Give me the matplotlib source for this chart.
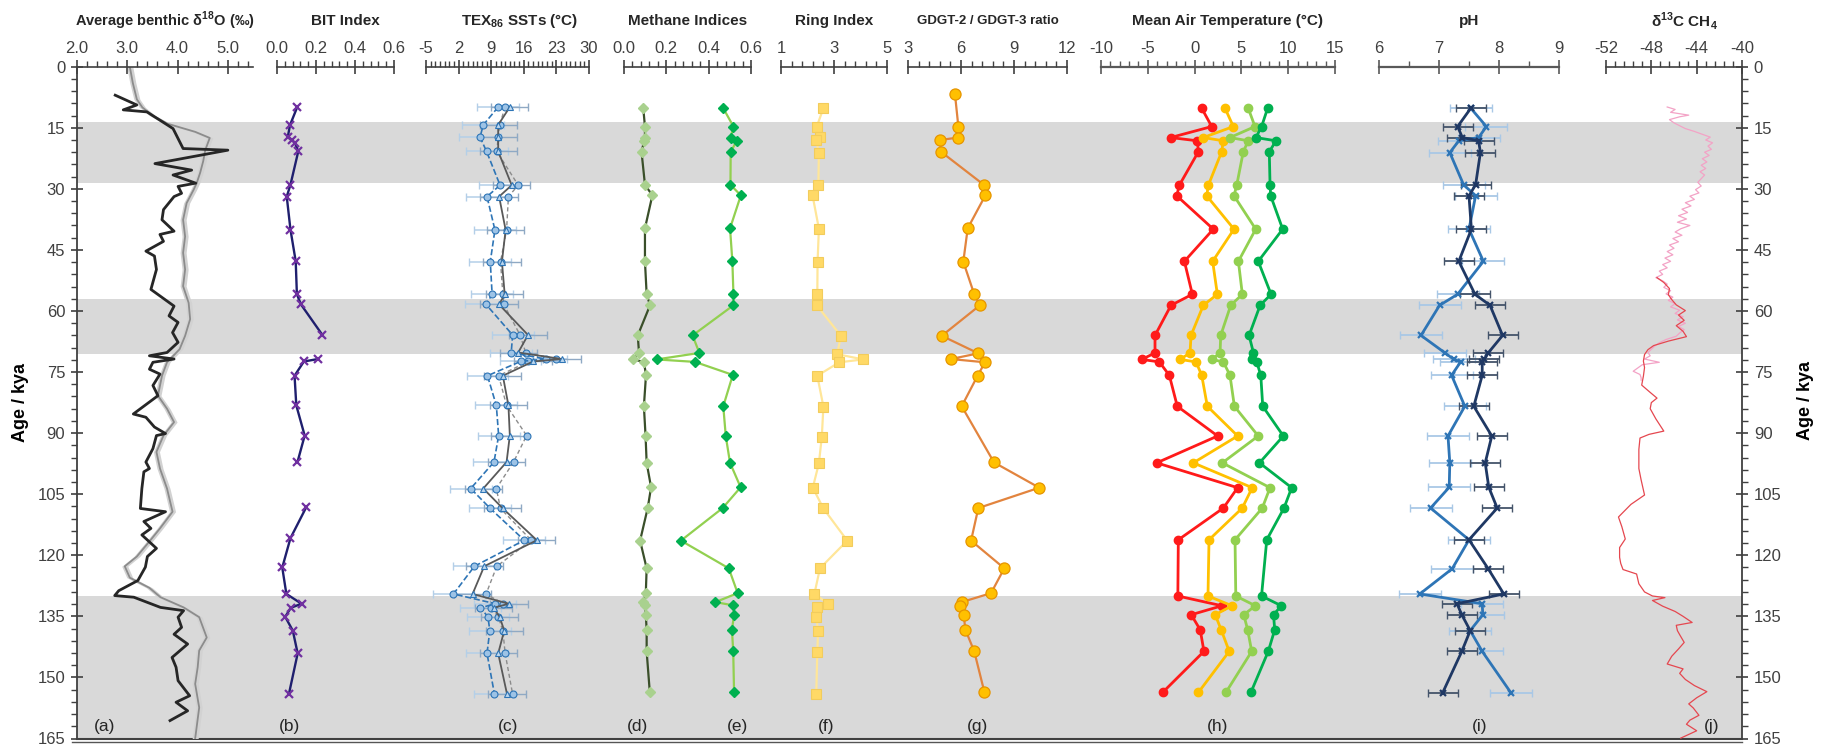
import numpy as np
import matplotlib
matplotlib.use("Agg")
import matplotlib.pyplot as plt
from matplotlib.ticker import MultipleLocator, FixedLocator, FormatStrFormatter
from matplotlib.lines import Line2D

plt.rcParams['font.family'] = ['Liberation Sans', 'DejaVu Sans']
plt.rcParams['mathtext.fontset'] = 'custom'
plt.rcParams['mathtext.rm'] = 'Liberation Sans'
plt.rcParams['mathtext.bf'] = 'Liberation Sans:bold'
plt.rcParams['axes.unicode_minus'] = False

nan = np.nan

# ---------- data ----------
bands = [(13.5, 28.6), (57.0, 70.5), (130.0, 165.0)]

# (a) benthic d18O
d18o_site_age = [7.0, 9.4, 10.6, 11.1, 15.2, 20.1, 20.5, 23.8, 25.4, 26.6, 28.6, 29.4, 31.1, 31.9, 35.1,
                 37.6, 40.4, 41.2, 42.9, 45.3, 46.5, 49.8, 54.7, 58.8, 61.2, 62.8, 65.3, 67.7, 70.2, 71.0,
                 71.8, 72.6, 74.3, 75.5, 78.3, 80.8, 85.3, 86.1, 88.5, 90.1, 90.6, 93.8, 97.1, 98.7, 99.5,
                 103.6, 108.5, 109.3, 111.7, 113.4, 115.0, 118.3, 120.3, 122.9, 126.2, 128.7, 129.9, 130.3,
                 132.8, 133.6, 135.2, 137.7, 139.4, 141.8, 145.1, 147.5, 150.8, 154.5, 156.1, 158.2, 160.6]
d18o_site = [2.76, 3.19, 2.92, 3.39, 3.91, 4.11, 5.0, 3.55, 4.28, 3.91, 4.36, 4.01, 4.08, 3.93, 3.72,
             3.69, 3.93, 3.65, 3.72, 3.37, 3.54, 3.58, 3.47, 3.93, 3.83, 4.01, 3.90, 4.01, 3.79, 3.44,
             3.93, 3.51, 3.44, 3.65, 3.51, 3.61, 3.12, 3.37, 3.54, 3.76, 3.58, 3.51, 3.37, 3.44, 3.33,
             3.29, 3.26, 3.76, 3.33, 3.47, 3.29, 3.58, 3.40, 3.36, 3.21, 2.83, 2.75, 3.13,
             3.66, 4.12, 4.01, 4.08, 3.93, 4.20, 3.89, 3.97, 4.01, 4.24, 3.97, 4.20, 3.85]
d18o_stack_age = [0, 4, 8, 10, 12, 14, 16, 17.5, 20.5, 23.2, 26.0, 28.6, 30.2, 33.5, 37.6, 41.7, 45.7,
                  49.8, 53.9, 58.0, 62.0, 66.1, 69.4, 72.6, 75.9, 80.8, 84.0, 87.3, 90.6, 94.6, 98.7,
                  103.6, 109.3, 113.4, 116.6, 120.3, 122.7, 125.5, 128.0, 130.3, 132.8, 135.2, 140.2,
                  143.4, 147.5, 151.6, 157.4, 165.0]
d18o_stack = [3.05, 3.11, 3.19, 3.30, 3.50, 3.80, 4.35, 4.64, 4.55, 4.51, 4.45, 4.38, 4.32, 4.18, 4.11,
              4.15, 4.11, 4.15, 4.11, 4.22, 4.25, 4.15, 4.04, 3.79, 3.69, 3.61, 3.79, 3.93, 3.72, 3.58,
              3.65, 3.79, 3.90, 3.65, 3.44, 3.19, 2.95, 3.05, 3.44, 3.66, 4.12, 4.43, 4.58, 4.43, 4.40,
              4.35, 4.43, 4.35]

# (b) BIT index (nan = gap in record)
bit_age = [9.9, 14.3, 17.3, 18.0, 18.7, 20.8, 29.0, 31.9, 40.0, 47.8, 55.9, 58.4, 65.9, nan, 71.8, 72.4,
           75.9, 83.2, 90.6, 97.1, nan, 108.1, 115.8, 123.0, 129.5, 131.9, 132.9, 135.1, 138.5, 144.1, 154.1]
bit = [0.104, 0.067, 0.055, 0.075, 0.092, 0.109, 0.069, 0.050, 0.069, 0.096, 0.102, 0.123, 0.233, nan,
       0.210, 0.138, 0.090, 0.099, 0.142, 0.105, nan, 0.151, 0.069, 0.027, 0.048, 0.126, 0.071, 0.042,
       0.081, 0.106, 0.061]

# (c) TEX86 SSTs, three calibrations
tex_age = [9.9, 14.3, 17.3, 20.8, 29.1, 31.9, 40.1, 47.9, 55.9, 58.4, 65.9, 70.2, 71.8, 72.4, 75.9,
           83.2, 90.6, 97.1, 103.6, 108.5, 116.3, 122.7, 129.5, 131.9, 132.9, 135.1, 138.5, 144.1, 154.1]
tex_1 = [10.5, 7.3, 6.6, 8.0, 10.9, 8.1, 9.8, 8.8, 9.2, 7.9, 13.6, 13.3, 20.7, 15.3, 8.2,
         10.1, 10.6, 9.6, 4.6, 8.8, 16.1, 5.4, 0.9, 9.9, 6.7, 8.3, 8.7, 8.1, 9.7]
tex_2 = [13.0, 10.5, 10.5, 10.5, 13.4, 10.7, 12.1, 11.3, 11.9, 10.7, 16.9, 14.8, 24.2, 18.0, 11.5,
         12.7, 13.0, 12.3, 7.3, 11.5, 18.8, 7.5, 5.0, 12.8, 9.5, 10.8, 11.8, 10.5, 12.4]
tex_3 = [12.0, 10.8, 10.5, 10.2, 14.8, 12.7, 12.3, 11.0, 11.5, 11.7, 15.2, 16.4, 23.0, 17.0, 10.6,
         12.3, 16.6, 13.8, 10.1, 11.0, 17.6, 10.2, 7.9, 11.6, 9.0, 10.5, 11.5, 12.0, 13.6]

# (d), (e) methane indices
mi_age = [10.2, 14.7, 17.4, 18.2, 21.0, 29.0, 31.6, 39.7, 47.8, 55.9, 58.6, 66.0, 70.3, 71.9, 72.5,
          75.7, 83.4, 90.8, 97.3, 103.3, 108.4, 116.4, 123.2, 129.3, 131.5, 132.3, 134.6, 138.3, 143.6, 153.7]
mi_d = [0.091, 0.099, 0.099, 0.095, 0.083, 0.099, 0.134, 0.099, 0.099, 0.107, 0.123, 0.065, 0.071, 0.044,
        0.094, 0.104, 0.094, 0.102, 0.107, 0.128, 0.112, 0.076, 0.107, 0.103, 0.091, 0.100, 0.103, 0.107,
        0.107, 0.122]
mi_e = [0.469, 0.517, 0.504, 0.532, 0.504, 0.503, 0.552, 0.501, 0.512, 0.517, 0.517, 0.324, 0.356, 0.154,
        0.335, 0.514, 0.469, 0.481, 0.501, 0.551, 0.466, 0.269, 0.495, 0.537, 0.432, 0.516, 0.520, 0.510,
        0.516, 0.520]

# (f) ring index
ri_age = [10.2, 14.7, 17.3, 18.0, 21.1, 29.0, 31.6, 39.8, 47.9, 55.9, 58.6, 66.1, 70.6, 71.9, 72.6,
          75.9, 83.5, 90.9, 97.4, 103.4, 108.5, 116.4, 123.2, 129.5, 131.9, 132.7, 135.1, 138.5, 143.8, 154.1]
ri = [2.60, 2.35, 2.47, 2.32, 2.43, 2.41, 2.19, 2.43, 2.38, 2.37, 2.35, 3.26, 3.12, 4.10, 3.20,
      2.37, 2.60, 2.54, 2.43, 2.20, 2.60, 3.50, 2.47, 2.26, 2.79, 2.37, 2.33, 2.40, 2.37, 2.33]

# (g) GDGT-2 / GDGT-3
gd_age = [6.8, 14.7, 17.4, 18.0, 20.9, 29.1, 31.6, 39.7, 47.9, 55.9, 58.6, 66.1, 70.4, 71.8, 72.6,
          75.9, 83.4, 97.2, 103.4, 108.4, 116.4, 123.2, 129.3, 131.5, 132.5, 134.6, 138.3, 143.6, 153.7]
gdgt = [5.66, 5.85, 5.85, 4.81, 4.87, 7.32, 7.38, 6.38, 6.13, 6.75, 7.07, 4.91, 6.98, 5.43, 7.36,
        6.94, 6.04, 7.87, 10.43, 6.98, 6.57, 8.45, 7.70, 6.04, 5.93, 6.15, 6.25, 6.75, 7.33]

# (h) mean air temperature, four calibrations
mat_age = [10.2, 14.7, 17.4, 18.2, 20.9, 29.1, 31.7, 39.9, 47.8, 55.9, 58.6, 66.0, 70.3, 71.9,
           72.5, 75.8, 83.4, 90.7, 97.3, 103.4, 108.4, 116.2, 130.0, 132.4, 134.6, 138.3, 143.6, 153.7]
mat_red = [0.76, 1.83, -2.56, 0.3, 0.40, -1.63, -1.91, 2.0, -1.09, -0.24, -2.52, -4.23, -4.23, -5.65,
           -3.77, -2.70, -1.85, 2.46, -4.05, 4.6, 3.07, -1.74, -1.79, 2.92, -0.36, 0.6, 1.0, -3.42]
mat_orange = [3.25, 4.14, 0.93, 3.07, 2.89, 1.47, 1.29, 4.21, 1.93, 2.43, 0.93, -0.38, -0.49, -1.56,
              0.15, 0.76, 1.36, 4.6, -0.14, 6.16, 5.09, 1.54, 1.43, 4.0, 2.2, 2.84, 3.7, 0.4]
mat_lgreen = [5.73, 6.45, 3.78, 5.73, 5.2, 4.5, 4.21, 6.53, 4.68, 5.1, 3.86, 2.79, 2.72, 1.83,
              3.07, 3.78, 4.25, 6.8, 2.96, 8.06, 7.23, 4.32, 4.4, 6.5, 5.25, 5.67, 6.1, 3.34]
mat_green = [7.8, 7.16, 6.55, 8.69, 7.98, 8.06, 8.13, 9.41, 6.8, 8.17, 7.0, 5.82, 6.29, 6.11,
             6.64, 7.07, 7.28, 9.48, 6.93, 10.37, 9.55, 7.71, 7.15, 9.27, 8.43, 8.56, 7.87, 6.01]

# (i) pH, two calibrations
ph_age = [10.2, 14.7, 17.4, 18.2, 21.1, 29.0, 31.7, 39.9, 47.8, 55.9, 58.6, 66.0, 70.3, 71.9, 72.5,
          75.8, 83.4, 90.7, 97.3, 103.3, 108.4, 116.2, 123.3, 129.5, 131.9, 134.6, 138.5, 143.6, 153.8]
ph_light = [7.53, 7.79, 7.66, 7.33, 7.18, 7.41, 7.61, 7.5, 7.74, 7.31, 7.01, 6.70, 7.1, 7.25, 7.36,
            7.21, 7.43, 7.15, 7.18, 7.17, 6.86, 7.5, 7.22, 6.68, 7.72, 7.73, 7.52, 7.72, 8.2]
ph_dark = [7.53, 7.31, 7.39, 7.66, 7.69, 7.61, 7.5, 7.54, 7.33, 7.6, 7.85, 8.06, 7.82, 7.75, 7.72,
           7.72, 7.58, 7.88, 7.77, 7.83, 7.97, 7.5, 7.82, 8.08, 7.3, 7.38, 7.52, 7.38, 7.06]

# (j) d13C CH4: high-resolution (pink) and long (red) records
ch4_hr_age = [9.9, 10.5, 11.2, 11.9, 12.3, 13.0, 13.8, 14.5, 15.2, 15.9, 16.5, 17.3, 18.0, 18.7, 19.5,
              20.3, 21.0, 21.8, 22.6, 23.4, 24.2, 25.0, 25.8, 26.6, 27.5, 28.4, 29.3, 30.2, 31.0, 31.8,
              32.6, 33.4, 34.2, 35.0, 35.8, 36.6, 37.4, 38.2, 39.0, 39.8, 40.6, 41.4, 42.2, 43.0, 43.8,
              44.6, 45.4, 46.2, 47.0, 47.8, 48.6, 49.4, 50.2, 51.0, 51.8, 52.6, 53.4, 54.2, 55.0, 55.8,
              56.6, 57.4, 58.2, 59.0, 59.8, 60.6, 61.4, 62.2, 63.0, 63.8, 64.6, 65.4, 66.2, 67.0, 67.8,
              68.6, 69.4, 70.2, 71.0, 71.8, 72.6, 73.2, 74.0, 74.8, 75.6, 76.4, 77.0]
ch4_hr = [-46.6, -45.9, -46.3, -44.7, -45.5, -46.4, -46.0, -45.5, -45.0, -44.2, -43.6, -42.8, -43.2, -42.6,
          -43.0, -42.7, -43.3, -42.9, -43.5, -43.1, -43.6, -43.2, -43.7, -43.3, -43.6, -43.9, -43.6, -44.1,
          -43.8, -44.6, -44.2, -45.0, -44.5, -45.3, -44.8, -45.6, -44.9, -45.7, -44.6, -45.4, -45.9, -45.3,
          -46.1, -45.6, -46.4, -46.0, -46.6, -46.1, -46.8, -46.3, -47.0, -46.6, -47.3, -47.0, -47.6, -47.0,
          -46.6, -46.9, -46.3, -46.7, -46.1, -46.5, -45.9, -46.3, -45.5, -45.9, -45.2, -45.7, -45.0, -45.6,
          -45.1, -45.5, -45.8, -46.7, -47.3, -47.7, -48.0, -48.3, -48.1, -48.6, -47.3, -48.8, -49.2, -49.6,
          -49.0, -48.9, -48.9]
ch4_age = [51.8, 53.0, 54.5, 56.0, 57.2, 58.5, 59.9, 61.0, 62.3, 63.6, 65.0, 66.3, 67.4, 68.5, 69.5,
           70.7, 72.3, 73.9, 76.0, 78.2, 80.0, 81.4, 82.5, 84.0, 86.5, 89.5, 90.3, 91.2, 94.0, 98.7,
           101.5, 105.2, 107.5, 110.6, 113.0, 116.0, 118.1, 120.5, 122.0, 123.5, 124.6, 127.0, 129.0,
           130.0, 130.4, 131.1, 132.5, 133.8, 135.0, 136.5, 137.2, 138.5, 139.5, 141.4, 143.0, 144.8,
           146.7, 147.9, 149.0, 150.5, 152.0, 153.5, 155.0, 156.5, 157.5, 159.3, 160.5, 161.5, 163.1, 164.9]
ch4 = [-47.5, -46.9, -46.4, -46.5, -46.2, -45.8, -45.0, -45.6, -45.1, -45.8, -45.2, -44.9, -46.5, -47.8,
       -48.3, -48.6, -48.7, -48.6, -48.7, -48.85, -48.1, -47.5, -48.0, -48.1, -47.6, -46.9, -48.2, -49.0,
       -49.1, -49.1, -48.9, -48.6, -49.8, -50.9, -50.6, -50.3, -50.8, -50.8, -50.7, -50.5, -49.3, -49.1,
       -48.6, -47.9, -46.8, -47.9, -47.0, -45.9, -45.2, -44.4, -45.8, -45.7, -45.5, -45.1, -45.6, -46.2,
       -46.6, -45.2, -45.5, -45.0, -44.2, -43.1, -44.0, -44.7, -44.3, -43.8, -44.6, -44.9, -44.0, -45.4]

# ---------- figure ----------
W, H = 1823, 750
Y0, Y1 = 66.7, 738.5          # pixel rows of age 0 and age 165
fig = plt.figure(figsize=(W / 100, H / 100), dpi=100)
BOT = 1 - Y1 / H
HGT = (Y1 - Y0) / H
TXT = '#404040'


def box(x0, x1):
    return [x0 / W, BOT, (x1 - x0) / W, HGT]


bg = fig.add_axes(box(77, 1742))
bg.set_ylim(165, 0)
bg.set_xlim(0, 1)
for lo, hi in bands:
    bg.axhspan(lo, hi, color='#d9d9d9', lw=0, zorder=0)
bg.set_xticks([])
bg.yaxis.set_major_locator(MultipleLocator(15))
bg.yaxis.set_minor_locator(MultipleLocator(3))
bg.tick_params(axis='y', which='major', direction='inout', length=9, width=1.2, colors='#404040',
               labelsize=12, left=True, right=True, labelleft=True, labelright=True, pad=4)
bg.tick_params(axis='y', which='minor', direction='out', length=4, width=1.0, colors='#404040',
               left=True, right=True)
for s in ['left', 'right']:
    bg.spines[s].set_color('#404040')
    bg.spines[s].set_linewidth(1.3)
bg.spines['top'].set_visible(False)
bg.spines['bottom'].set_color('#404040')
bg.spines['bottom'].set_linewidth(1.5)
fig.add_artist(Line2D([72 / W, 1742 / W], [1 - 741.5 / H] * 2, color='#555555', lw=1.0))
bg.set_ylabel('Age / kya', fontsize=13, fontweight='bold', labelpad=6)
fig.text(1805 / W, 1 - 400 / H, 'Age / kya', fontsize=13, fontweight='bold', rotation=90,
         ha='center', va='center')


def panel(x0, x1, lim, majors, minor_step, fmt, title, tx=None, tsize=10.5, axcol='#404040', alw=1.2):
    ax = fig.add_axes(box(x0, x1))
    ax.patch.set_alpha(0)
    ax.set_ylim(165, 0)
    ax.set_xlim(*lim)
    ax.set_yticks([])
    for s in ['left', 'right', 'bottom']:
        ax.spines[s].set_visible(False)
    ax.spines['top'].set_color(axcol)
    ax.spines['top'].set_linewidth(alw)
    ax.xaxis.tick_top()
    ax.xaxis.set_major_locator(FixedLocator(majors))
    ax.xaxis.set_minor_locator(FixedLocator(np.arange(lim[0], lim[1] + 1e-6, minor_step)))
    ax.xaxis.set_major_formatter(FormatStrFormatter(fmt))
    ax.tick_params(axis='x', which='major', direction='inout', length=10, width=1.2, colors=axcol,
                   labelcolor=TXT, labelsize=12, pad=3)
    ax.tick_params(axis='x', which='minor', direction='out', length=4, width=1.0, colors=axcol)
    cx = (x0 + x1) / 2 if tx is None else tx
    fig.text(cx / W, 1 - 21 / H, title, fontsize=tsize, fontweight='bold', color='#262626',
             ha='center', va='center')
    return ax


# (a)
ax = panel(77, 253, (2.0, 5.5), [2, 3, 4, 5], 0.2, '%.1f', r'Average benthic δ$^{\mathbf{18}}$O (‰)')
st = np.array(d18o_stack)
ax.fill_betweenx(d18o_stack_age, st - 0.06, st + 0.06, color='#d2d2d2', lw=0)
ax.plot(d18o_stack, d18o_stack_age, color='#8c8c8c', lw=1.3)
ax.plot(d18o_site, d18o_site_age, color='#262626', lw=2.0)

# (b)
ax = panel(277, 394, (0.0, 0.6), [0, 0.2, 0.4, 0.6], 0.04, '%.1f', 'BIT Index', tx=345, tsize=11)
ax.plot(bit, bit_age, color='#1f1f6e', lw=1.7, marker='x', ms=6, mec='#7030a0', mew=1.6)

# (c)
ax = panel(426, 589, (-5, 30), [-5, 2, 9, 16, 23, 30], 1, '%d', r'TEX$_{\mathbf{86}}$ SSTs (°C)',
           tx=520, tsize=11)
ax.errorbar(tex_1, tex_age, xerr=4.5, fmt='none', ecolor='#b4cfe8', elinewidth=1.1, capsize=3)
ax.errorbar(tex_2, tex_age, xerr=4.0, fmt='none', ecolor='#8fa9c4', elinewidth=1.0, capsize=3)
ax.plot(tex_3, tex_age, color='#8c8c8c', lw=1.0, ls=(0, (3, 2)), marker='o', ms=5,
        mfc='#9dc3e6', mec='#2e75b6', mew=0.8)
ax.plot(tex_1, tex_age, color='#2e75b6', lw=1.2, ls='--', marker='o', ms=5,
        mfc='#9dc3e6', mec='#2e75b6', mew=0.8)
ax.plot(tex_2, tex_age, color='#595959', lw=1.3, marker='^', ms=5,
        mfc='#bdd7ee', mec='#2e75b6', mew=0.8)

# (d), (e)
ax = panel(624, 751, (0.0, 0.6), [0, 0.2, 0.4, 0.6], 0.04, '%.1f', 'Methane Indices', tsize=11)
ax.plot(mi_d, mi_age, color='#3a4f2a', lw=1.6, marker='D', ms=5, mfc='#a9d18e', mec='#a9d18e')
ax.plot(mi_e, mi_age, color='#92d050', lw=1.6, marker='D', ms=5.5, mfc='#00b050', mec='#00b050')

# (f)
ax = panel(781, 887, (1, 5), [1, 3, 5], 0.4, '%d', 'Ring Index', tsize=11)
ax.plot(ri, ri_age, color='#ffe699', lw=1.6, marker='s', ms=7, mfc='#ffd966', mec='#f2cc5c', mew=0.8)

# (g)
ax = panel(908, 1067, (3, 12), [3, 6, 9, 12], 0.6, '%d', 'GDGT-2 / GDGT-3 ratio', tsize=9.5)
ax.plot(gdgt, gd_age, color='#e2843e', lw=1.6, marker='o', ms=8, mfc='#ffc000', mec='#e69500', mew=0.9)

# (h)
ax = panel(1101, 1335, (-10, 15), [-10, -5, 0, 5, 10, 15], 1, '%d', 'Mean Air Temperature (°C)',
           tx=1227, tsize=11, axcol='#595959', alw=1.6)
for vals, col in [(mat_red, '#ff1a1a'), (mat_orange, '#ffc000'), (mat_lgreen, '#92d050'),
                  (mat_green, '#00b050')]:
    ax.plot(vals, mat_age, color=col, lw=2.0, marker='o', ms=6, mfc=col, mec=col)

# (i)
ax = panel(1379, 1559, (6, 9), [6, 7, 8, 9], 0.5, '%d', 'pH', tsize=11, axcol='#595959', alw=1.6)
ax.errorbar(ph_light, ph_age, xerr=0.35, fmt='none', ecolor='#a9c8e6', elinewidth=1.3, capsize=3)
ax.errorbar(ph_dark, ph_age, xerr=0.25, fmt='none', ecolor='#44546a', elinewidth=1.3, capsize=3)
ax.plot(ph_light, ph_age, color='#2e75b6', lw=2.0, marker='x', ms=5, mew=1.6)
ax.plot(ph_dark, ph_age, color='#1f3864', lw=2.0, marker='x', ms=5, mew=1.6)

# (j)
ax = panel(1606, 1742, (-52, -40), [-52, -48, -44, -40], 0.8, '%d',
           r'δ$^{\mathbf{13}}$C CH$_{\mathbf{4}}$', tx=1685, tsize=11)
ax.plot(ch4_hr, ch4_hr_age, color='#f3a3c6', lw=0.9)
ax.plot(ch4, ch4_age, color='#e5474f', lw=0.9)

# panel letters
for lab, px in [('(a)', 105), ('(b)', 289), ('(c)', 508), ('(d)', 637), ('(e)', 738), ('(f)', 826),
                ('(g)', 977), ('(h)', 1218), ('(i)', 1480), ('(j)', 1712)]:
    fig.text(px / W, 1 - 727 / H, lab, fontsize=12.5, color='#262626', ha='center', va='center')

fig.savefig('out.png', dpi=100)
